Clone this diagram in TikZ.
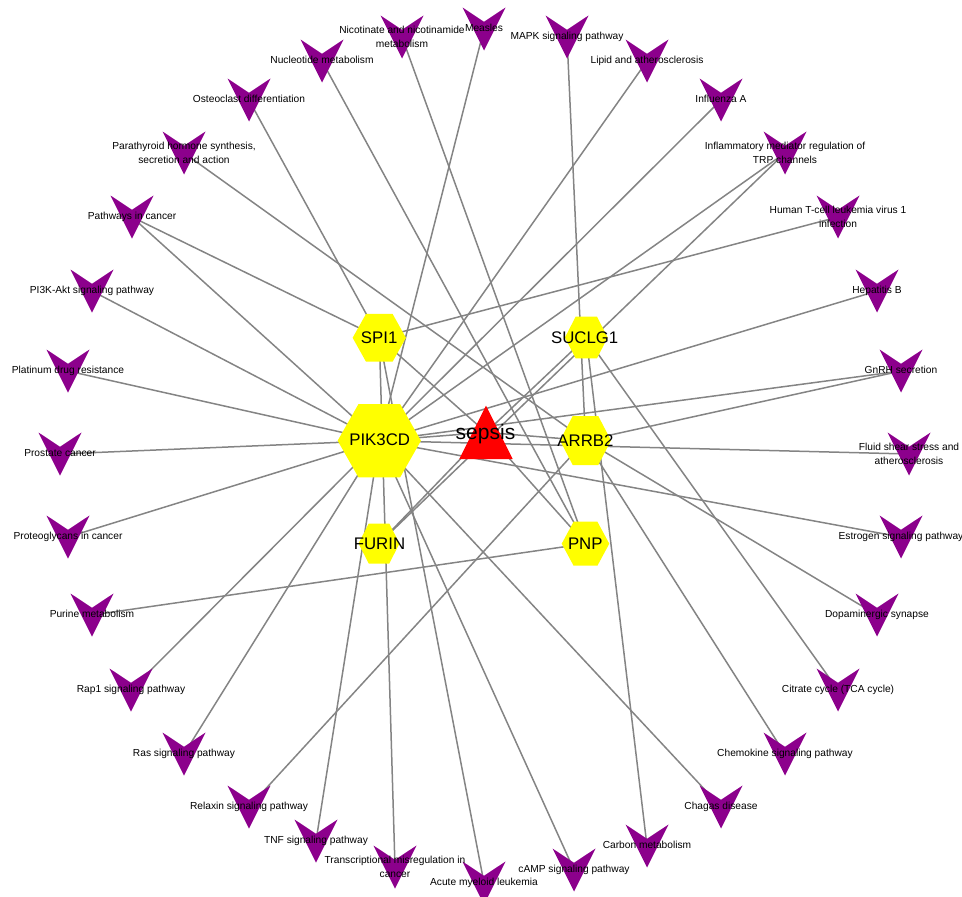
\documentclass[tikz,border=0pt]{standalone}
\usepackage{fontspec}
\setmainfont{Liberation Sans}
\definecolor{edgegray}{RGB}{132,132,132}
\definecolor{pwpurple}{RGB}{140,0,140}
\definecolor{geneyellow}{RGB}{255,255,0}
\definecolor{sepsisred}{RGB}{255,0,0}
% hexagon with flat top and bottom: centre coordinate, width, height
\newcommand\hexgene[3]{%
  \fill[genefill,shift={(#1)}] (-#2/2,0) -- (-#2/4,-#3/2) -- (#2/4,-#3/2)
    -- (#2/2,0) -- (#2/4,#3/2) -- (-#2/4,#3/2) -- cycle;}
\begin{document}
\begin{tikzpicture}[x=1pt,y=-1pt,
  link/.style={draw=edgegray,line width=1.5pt},
  genefill/.style={fill=geneyellow},
  vmark/.pic={\fill[pwpurple] (-21.5,-21.5) -- (0,-7.2) -- (21.5,-21.5) -- (0,21.5) -- cycle;},
  pwtext/.style={font=\fontsize{10.2}{14}\selectfont,text=black,align=center,inner sep=0pt},
  pwone/.style={pwtext,text height=7.4pt,text depth=2.2pt},
  genetext/.style={font=\fontsize{16.8}{20}\selectfont,text=black,inner sep=0pt},
]
\useasboundingbox (0,0) rectangle (962,897);

% disease and gene positions
\coordinate (sep) at (486,432.4);
\coordinate (pik) at (379.3,440.7);
\coordinate (spi) at (379.3,337.8);
\coordinate (suc) at (586.3,337.5);
\coordinate (arr) at (585.5,440.5);
\coordinate (fur) at (379,543.5);
\coordinate (pnp) at (585.5,543.7);

% pathway positions around the ring
\foreach \n/\x/\y in {meas/484/29, nico/402/37, mapk/567/37, nucl/322/61, lipi/647/61,
  oste/249/100, infl/721/100, para/184/153, trpc/785/153, canc/132/217, htlv/838/217,
  pi3k/92/291, hepb/877/291, plat/68/371, gnrh/901/371, pros/60/454, flui/909/454,
  prot/68/537, estr/901/537, puri/92/615, dopa/877/615, rap1/131/690, citr/838/690,
  rass/184/754, chem/785/754, rela/249/807, chag/721/807, tnfs/316/841, carb/647/846,
  tran/395/867, camp/574/870, acut/484/883}
  \coordinate (\n) at (\x,\y);

% pathway -- gene links
\foreach \p in {meas,lipi,infl,trpc,canc,pi3k,plat,pros,prot,rap1,rass,tnfs,camp,chag,estr,flui,gnrh,hepb}
  \draw[link] (\p) -- (pik);
\foreach \p in {mapk,para,gnrh,rela,chem,dopa}
  \draw[link] (\p) -- (arr);
\foreach \p in {oste,canc,htlv,tran,acut}
  \draw[link] (\p) -- (spi);
\foreach \p in {carb,citr}
  \draw[link] (\p) -- (suc);
\foreach \p in {nico,nucl,puri}
  \draw[link] (\p) -- (pnp);
\draw[link] (trpc) -- (fur);
% disease -- gene links
\foreach \g in {pik,spi,suc,arr,fur,pnp}
  \draw[link] (sep) -- (\g);

% pathway markers
\foreach \n in {meas,nico,mapk,nucl,lipi,oste,infl,para,trpc,canc,htlv,pi3k,hepb,plat,gnrh,
  pros,flui,prot,estr,puri,dopa,rap1,citr,rass,chem,rela,chag,tnfs,carb,tran,camp,acut}
  \pic at (\n) {vmark};

% gene hexagons
\hexgene{pik}{83.3}{73.3}
\hexgene{spi}{53.3}{47.7}
\hexgene{suc}{42.7}{41.6}
\hexgene{arr}{51}{49}
\hexgene{fur}{41}{40}
\hexgene{pnp}{47.6}{44}

% disease triangle
\fill[sepsisred,shift={(sep)}] (-26.7,26.6) -- (0,-26.7) -- (26.7,26.6) -- cycle;

% labels
\node[font=\fontsize{21}{24}\selectfont,inner sep=0pt,anchor=base] (sep-t) at (485.5,439) {sepsis};
\node[genetext] (pik-t) at (379.7,440) {PIK3CD};
\node[genetext] (spi-t) at (379.2,337.5) {SPI1};
\node[genetext] (suc-t) at (584.7,337.5) {SUCLG1};
\node[genetext] (arr-t) at (585.5,440.5) {ARRB2};
\node[genetext] (fur-t) at (379.5,543.5) {FURIN};
\node[genetext] (pnp-t) at (585.3,543.5) {PNP};

\node[pwone] (meas-t) at (meas) {Measles};
\node[pwtext] (nico-t) at (nico) {Nicotinate and nicotinamide\\metabolism};
\node[pwone] (mapk-t) at (mapk) {MAPK signaling pathway};
\node[pwone] (nucl-t) at (nucl) {Nucleotide metabolism};
\node[pwone] (lipi-t) at (lipi) {Lipid and atherosclerosis};
\node[pwone] (oste-t) at (oste) {Osteoclast differentiation};
\node[pwone] (infl-t) at (infl) {Influenza A};
\node[pwtext] (para-t) at (para) {Parathyroid hormone synthesis,\\secretion and action};
\node[pwtext] (trpc-t) at (trpc) {Inflammatory mediator regulation of\\TRP channels};
\node[pwone] (canc-t) at (canc) {Pathways in cancer};
\node[pwtext] (htlv-t) at (htlv) {Human T-cell leukemia virus 1\\infection};
\node[pwone] (pi3k-t) at (pi3k) {PI3K-Akt signaling pathway};
\node[pwone] (hepb-t) at (hepb) {Hepatitis B};
\node[pwone] (plat-t) at (plat) {Platinum drug resistance};
\node[pwone] (gnrh-t) at (gnrh) {GnRH secretion};
\node[pwone] (pros-t) at (pros) {Prostate cancer};
\node[pwtext] (flui-t) at (flui) {Fluid shear stress and\\atherosclerosis};
\node[pwone] (prot-t) at (prot) {Proteoglycans in cancer};
\node[pwone] (estr-t) at (estr) {Estrogen signaling pathway};
\node[pwone] (puri-t) at (puri) {Purine metabolism};
\node[pwone] (dopa-t) at (dopa) {Dopaminergic synapse};
\node[pwone] (rap1-t) at (rap1) {Rap1 signaling pathway};
\node[pwone] (citr-t) at (citr) {Citrate cycle (TCA cycle)};
\node[pwone] (rass-t) at (rass) {Ras signaling pathway};
\node[pwone] (chem-t) at (chem) {Chemokine signaling pathway};
\node[pwone] (rela-t) at (rela) {Relaxin signaling pathway};
\node[pwone] (chag-t) at (chag) {Chagas disease};
\node[pwone] (tnfs-t) at (tnfs) {TNF signaling pathway};
\node[pwone] (carb-t) at (carb) {Carbon metabolism};
\node[pwtext] (tran-t) at (tran) {Transcriptional misregulation in\\cancer};
\node[pwone] (camp-t) at (camp) {cAMP signaling pathway};
\node[pwone] (acut-t) at (acut) {Acute myeloid leukemia};
\end{tikzpicture}
\end{document}
